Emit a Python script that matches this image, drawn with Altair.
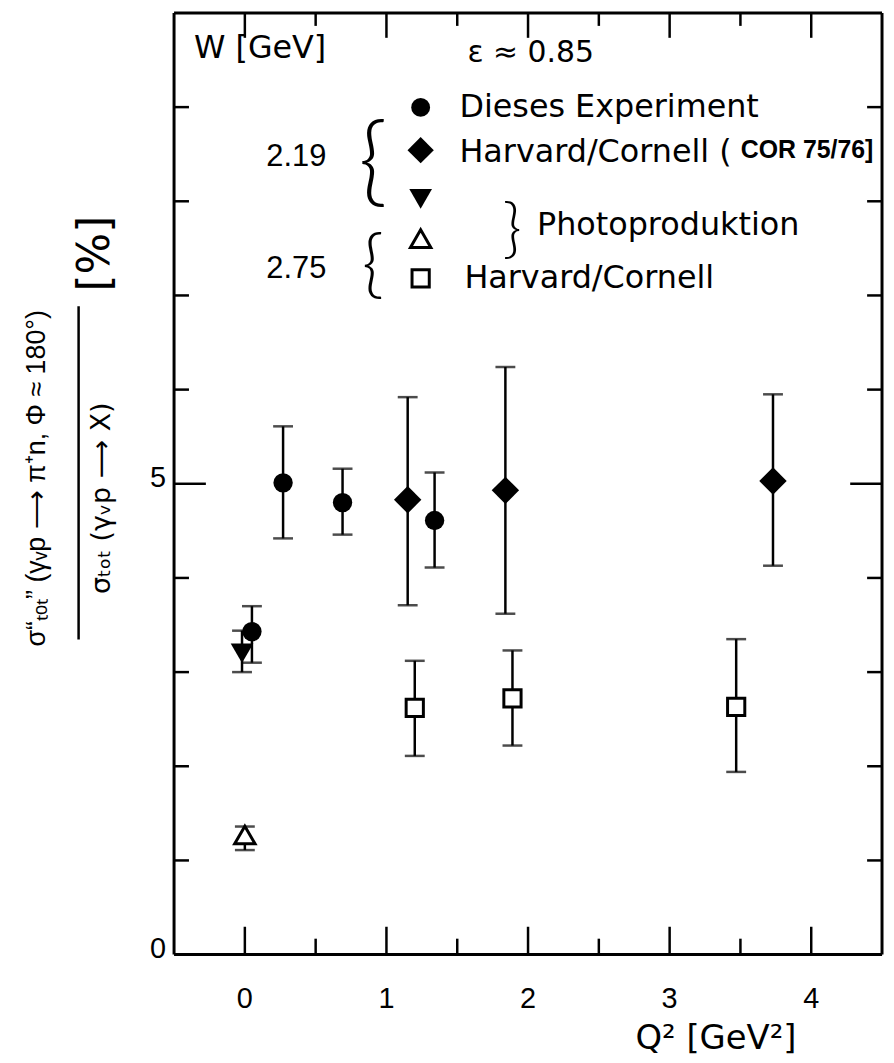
import altair as alt
import pandas as pd

# ---- data ----
circ_q = [0.05, 0.27, 0.69, 1.34]
circ_v = [3.43, 5.01, 4.80, 4.61]
circ_lo = [3.10, 4.42, 4.46, 4.11]
circ_hi = [3.70, 5.61, 5.16, 5.12]

diam_q = [1.15, 1.84, 3.73]
diam_v = [4.83, 4.93, 5.03]
diam_lo = [3.71, 3.62, 4.13]
diam_hi = [5.92, 6.24, 5.95]

tdn_q = [-0.02]
tdn_v = [3.20]
tdn_lo = [3.00]
tdn_hi = [3.44]

tup_q = [0.0]
tup_v = [1.27]
tup_lo = [1.11]
tup_hi = [1.36]

sq_q = [1.20, 1.89, 3.47]
sq_v = [2.62, 2.72, 2.63]
sq_lo = [2.11, 2.22, 1.94]
sq_hi = [3.12, 3.23, 3.35]

x_major = [0, 1, 2, 3, 4]
x_minor = [0.5, 1.5, 2.5, 3.5]
y_major = [5]
y_minor = [1, 2, 3, 4, 6, 7, 8, 9]
x_labels = [0, 1, 2, 3, 4]
y_labels = [0, 5]

W, H = 712, 947
FONT = "DejaVu Sans"
LIB = "Liberation Sans"

xs = alt.Scale(domain=[-0.5, 4.5], nice=False, zero=False)
ys = alt.Scale(domain=[0, 10], nice=False, zero=False)


def X(f):
    return alt.X(f, type="quantitative", scale=xs, axis=None)


def Y(f):
    return alt.Y(f, type="quantitative", scale=ys, axis=None)


def df(q, v, lo, hi):
    return pd.DataFrame({"q": q, "v": v, "lo": lo, "hi": hi})


layers = []


def series(q, v, lo, hi, shape, size, filled):
    d = df(q, v, lo, hi)
    base = alt.Chart(d)
    bars = base.mark_rule(color="black", strokeWidth=2.5).encode(x=X("q"), y=Y("lo"), y2="hi")
    cap_lo = base.mark_tick(color="black", orient="horizontal", size=20, thickness=2.5).encode(x=X("q"), y=Y("lo"))
    cap_hi = base.mark_tick(color="black", orient="horizontal", size=20, thickness=2.5).encode(x=X("q"), y=Y("hi"))
    if filled:
        pts = base.mark_point(shape=shape, size=size, filled=True, color="black", opacity=1)
    else:
        pts = base.mark_point(shape=shape, size=size, filled=True, fill="white",
                              stroke="black", strokeWidth=3, opacity=1)
    pts = pts.encode(x=X("q"), y=Y("v"))
    return [bars, cap_lo, cap_hi, pts]


layers += series(circ_q, circ_v, circ_lo, circ_hi, "circle", 380, True)
layers += series(diam_q, diam_v, diam_lo, diam_hi, "diamond", 760, True)
layers += series(tdn_q, tdn_v, tdn_lo, tdn_hi, "triangle-down", 520, True)
layers += series(tup_q, tup_v, tup_lo, tup_hi, "triangle-up", 420, False)
layers += series(sq_q, sq_v, sq_lo, sq_hi, "square", 300, False)

# ---- inward ticks ----
def xticks(vals, length):
    d = pd.DataFrame({"t": vals})
    b = alt.Chart(d)
    bot = b.mark_rule(color="black", strokeWidth=2.5).encode(x=X("t"), y=alt.value(H), y2=alt.value(H - length))
    top = b.mark_rule(color="black", strokeWidth=2.5).encode(x=X("t"), y=alt.value(0), y2=alt.value(length - 3))
    return [bot, top]


def yticks(vals, length):
    d = pd.DataFrame({"t": vals})
    b = alt.Chart(d)
    left = b.mark_rule(color="black", strokeWidth=2.5).encode(y=Y("t"), x=alt.value(0), x2=alt.value(length))
    right = b.mark_rule(color="black", strokeWidth=2.5).encode(y=Y("t"), x=alt.value(W), x2=alt.value(W - length))
    return [left, right]


layers += xticks(x_major, 28)
layers += xticks(x_minor, 16)
layers += yticks(y_major, 32)
layers += yticks(y_minor, 15)

# ---- tick labels (through the scales) ----
layers.append(
    alt.Chart(pd.DataFrame({"t": x_labels})).mark_text(
        font=LIB, fontSize=29, color="black", baseline="middle", align="center"
    ).encode(x=X("t"), y=alt.value(H + 45), text=alt.Text("t:Q", format="d"))
)
layers.append(
    alt.Chart(pd.DataFrame({"t": y_labels})).mark_text(
        font=LIB, fontSize=29, color="black", baseline="middle", align="right", dy=-6
    ).encode(y=Y("t"), x=alt.value(-8), text=alt.Text("t:Q", format="d"))
)

# ---- annotations ----
one = pd.DataFrame({"a": [0]})


def txt(s, x, y, size=29, align="left", angle=None, font=FONT, weight="normal"):
    kw = dict(text=s, align=align, baseline="middle", fontSize=size, font=font,
              color="black", fontWeight=weight)
    if angle is not None:
        kw["angle"] = angle
    return alt.Chart(one).mark_text(**kw).encode(x=alt.value(x), y=alt.value(y))


def sym(shape, x, y, size, filled):
    if filled:
        m = alt.Chart(one).mark_point(shape=shape, size=size, filled=True, color="black", opacity=1)
    else:
        m = alt.Chart(one).mark_point(shape=shape, size=size, filled=True, fill="white",
                                      stroke="black", strokeWidth=3, opacity=1)
    return m.encode(x=alt.value(x), y=alt.value(y))


def frame(x, x2, y, y2):
    return alt.Chart(one).mark_rule(color="black", strokeWidth=3).encode(
        x=alt.value(x), x2=alt.value(x2), y=alt.value(y), y2=alt.value(y2))


layers += [
    frame(0, W, 0, 0), frame(0, W, H, H), frame(0, 0, 0, H), frame(W, W, 0, H),
    txt("W [GeV]", 20, 35, 32),
    txt("ε ≈ 0.85", 295, 40, 30),
    sym("circle", 248, 95, 360, True),
    txt("Dieses Experiment", 287, 95, 32),
    sym("diamond", 248, 138, 700, True),
    txt("Harvard/Cornell (", 287, 140, 32),
    txt("COR 75/76]", 570, 138, 25, font=LIB, weight="bold"),
    sym("triangle-down", 248, 187, 520, True),
    sym("triangle-up", 248, 227, 420, False),
    txt("Photoproduktion", 365, 213, 32),
    sym("square", 248, 267, 300, False),
    txt("Harvard/Cornell", 292, 267, 32),
    txt("2.19", 123, 145, 31, align="center", font=LIB),
    txt("2.75", 123, 258, 31, align="center", font=LIB),
    txt("{", 200, 152, 100, align="center", font="Lato", weight=300),
    txt("{", 200, 255, 76, align="center", font="Lato", weight=300),
    txt("}", 340, 218, 66, align="center", font="Lato", weight=300),
    txt("Q² [GeV²]", 545, 1032, 34, align="center"),
    # y-axis title (rotated fraction)
    txt("σ\u201cₜₒₜ\u201d (γᵥp ⟶ π⁺n, Φ ≈ 180°)", -138, 468, 27, align="center", angle=270, font=LIB),
    txt("σₜₒₜ (γᵥp ⟶ X)", -72, 488, 27, align="center", angle=270),
    txt("[%]", -78, 242, 44, align="center", angle=270),
    alt.Chart(one).mark_rule(color="black", strokeWidth=2.5).encode(
        x=alt.value(-96), x2=alt.value(-96), y=alt.value(295), y2=alt.value(630)),
]

chart = alt.layer(*layers).properties(
    width=W, height=H,
    autosize=alt.AutoSizeParams(type="none"),
    padding={"left": 167, "top": 2, "right": 4, "bottom": 100},
).configure_view(stroke=None).configure(background="white")

chart.save("out.html", embed_options={"renderer": "svg", "actions": False})
